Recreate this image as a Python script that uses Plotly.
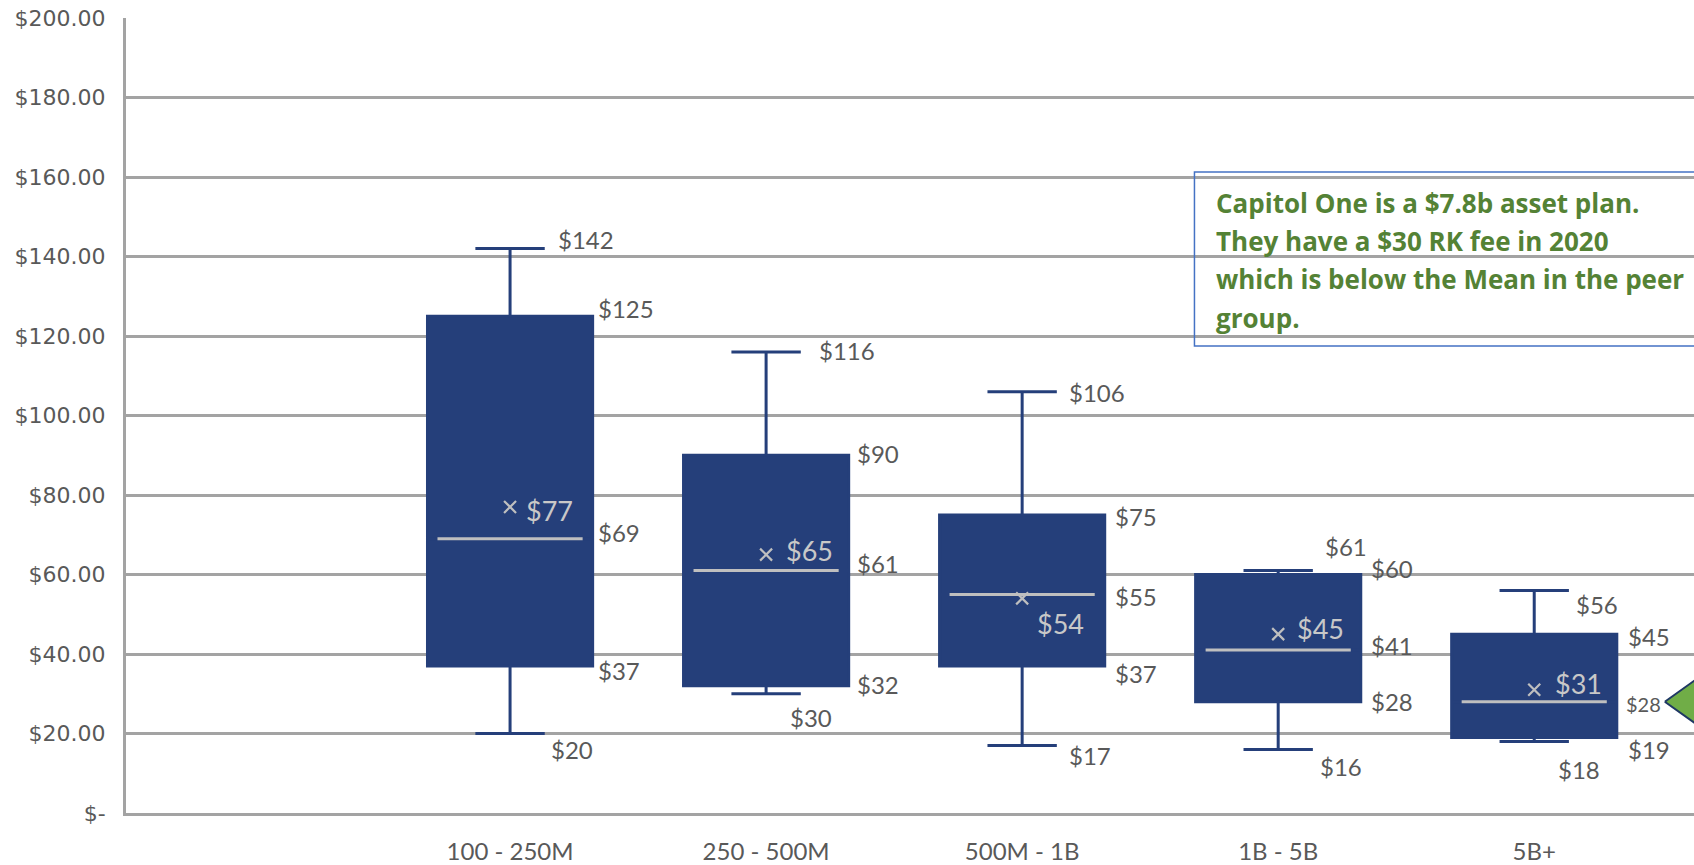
import plotly.graph_objects as go

# Recordkeeping fee distribution by plan asset size
categories = ["100 - 250M", "250 - 500M", "500M - 1B", "1B - 5B", "5B+"]
maximums = [142, 116, 106, 61, 56]
q3s = [125, 90, 75, 60, 45]
medians = [69, 61, 55, 41, 28]
q1s = [37, 32, 37, 28, 19]
minimums = [20, 30, 17, 16, 18]
means = [77, 65, 54, 45, 31]

y_tick_values = [0, 20, 40, 60, 80, 100, 120, 140, 160, 180, 200]
y_tick_labels = ["$-", "$20.00", "$40.00", "$60.00", "$80.00", "$100.00",
                 "$120.00", "$140.00", "$160.00", "$180.00", "$200.00"]

callout_lines = [
    "Capitol One is a $7.8b asset plan.",
    "They have a $30 RK fee in 2020",
    "which is below the Mean in the peer",
    "group.",
]

# ---- styling ----
NAVY = "#253f7a"
MEDIAN_GRAY = "#bfbfbf"
LABEL_GRAY = "#595959"
GRID_GRAY = "#a3a3a3"
GREEN = "#548235"
W, H = 1694, 865
LEFT, TOP, BOTTOM = 126, 18, 47
X_RANGE = [-1.5, 4.624]
BOX_W = 0.645
px_per_x = (W - LEFT) / (X_RANGE[1] - X_RANGE[0])

# label offsets per category: (x offset px from centre, vertical shift px)
label_offsets = {
    "max": [(46, 9), (51, 1), (45, -1), (45, 24), (40, -14)],
    "q3": [(86, 8), (89, 2), (91, -2), (91, 6), (92, -2)],
    "median": [(86, 6), (89, 7), (91, -2), (91, 5), (90, -2)],
    "q1": [(86, -5), (89, 1), (91, -8), (91, 0), (92, -12)],
    "min": [(39, -16), (22, -24), (45, -10), (40, -17), (22, -28)],
    "mean": [(14, -4), (18, 4), (13, -25), (17, 6), (19, 6)],
}

xs = list(range(len(categories)))
fig = go.Figure()

fig.add_trace(go.Box(
    x=xs, q1=q1s, median=medians, q3=q3s,
    lowerfence=minimums, upperfence=maximums,
    width=BOX_W, whiskerwidth=0.42,
    fillcolor=NAVY, line=dict(color=NAVY, width=3),
    boxpoints=False, showlegend=False, hoverinfo="skip",
))

# median bars drawn in light gray on top of the boxes
half = BOX_W / 2 - 10 / px_per_x
for i, m in enumerate(medians):
    fig.add_trace(go.Scatter(
        x=[i - half, i + half], y=[m, m], mode="lines",
        line=dict(color=MEDIAN_GRAY, width=3),
        showlegend=False, hoverinfo="skip",
    ))

# mean markers
fig.add_trace(go.Scatter(
    x=xs, y=means, mode="markers",
    marker=dict(symbol="x-thin", size=12, line=dict(color=MEDIAN_GRAY, width=2.2)),
    showlegend=False, hoverinfo="skip",
))

annotations = []
stats = {"max": maximums, "q3": q3s, "median": medians, "q1": q1s, "min": minimums}
for key, values in stats.items():
    for i, v in enumerate(values):
        dx, dy = label_offsets[key][i]
        size = 20 if (key == "median" and i == 4) else 24
        annotations.append(dict(
            x=i, y=v, xref="x", yref="y", text=f"${v}", showarrow=False,
            xanchor="left", yanchor="middle", xshift=dx, yshift=dy,
            font=dict(family="Lato", size=size, color=LABEL_GRAY),
        ))
for i, v in enumerate(means):
    dx, dy = label_offsets["mean"][i]
    annotations.append(dict(
        x=i, y=v, xref="x", yref="y", text=f"${v}", showarrow=False,
        xanchor="left", yanchor="middle", xshift=dx, yshift=dy,
        font=dict(family="Lato", size=27, color="#c8c8c8"),
    ))

# callout text
callout_y = [153.5, 144.0, 134.25, 124.5]
for line, y in zip(callout_lines, callout_y):
    annotations.append(dict(
        x=2.75, y=y, xref="x", yref="y", text=f"<b>{line}</b>", showarrow=False,
        xanchor="left", yanchor="middle",
        font=dict(family="Open Sans", size=26, color=GREEN),
    ))

shapes = [dict(
    type="rect", xref="x", yref="y", x0=2.673, x1=6.0, y0=117.5, y1=161.25,
    line=dict(color="#4472c4", width=1.5), fillcolor="rgba(0,0,0,0)", layer="above",
)]

# green pointer arrow at the 5B+ median level
tip_x = 4.51
tip_y = medians[-1]
head_len, head_h, shaft_h = 0.125, 5.75, 2.8
arrow_x = [tip_x, tip_x + head_len, tip_x + head_len, 5.2, 5.2, tip_x + head_len, tip_x + head_len, tip_x]
arrow_y = [tip_y, tip_y + head_h, tip_y + shaft_h, tip_y + shaft_h, tip_y - shaft_h,
           tip_y - shaft_h, tip_y - head_h, tip_y]
fig.add_trace(go.Scatter(
    x=arrow_x, y=arrow_y, mode="lines", fill="toself", fillcolor="#70ad47",
    line=dict(color="#1f3864", width=2), showlegend=False, hoverinfo="skip",
))

fig.update_layout(
    width=W, height=H,
    margin=dict(l=LEFT, r=0, t=TOP, b=BOTTOM),
    paper_bgcolor="white", plot_bgcolor="white",
    annotations=annotations, shapes=shapes,
    showlegend=False,
)
fig.update_xaxes(
    range=X_RANGE, tickvals=xs, ticktext=categories,
    showgrid=False, zeroline=False,
    showline=True, linecolor=GRID_GRAY, linewidth=3,
    ticks="", ticklabelstandoff=15,
    tickfont=dict(family="Lato", size=24, color=LABEL_GRAY),
)
fig.update_yaxes(
    range=[0, 200], tickvals=y_tick_values, ticktext=y_tick_labels,
    showgrid=True, gridcolor=GRID_GRAY, gridwidth=2.5,
    zeroline=False, showline=True, linecolor=GRID_GRAY, linewidth=3,
    ticks="", ticklabelstandoff=13,
    tickfont=dict(family="DejaVu Sans", size=22, color=LABEL_GRAY),
)

fig.write_html("out.html")
